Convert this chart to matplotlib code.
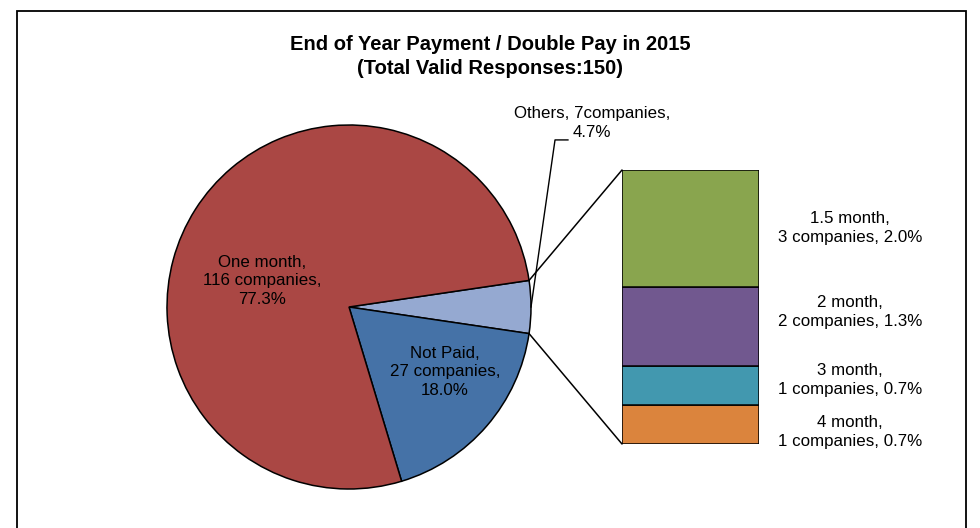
import matplotlib
matplotlib.use("Agg")
import matplotlib.pyplot as plt
import numpy as np
from matplotlib.patches import ConnectionPatch, Rectangle

plt.rcParams['font.family'] = ['Liberation Sans', 'DejaVu Sans']

# ---- data ----
title = "End of Year Payment / Double Pay in 2015\n(Total Valid Responses:150)"
pie_labels = ["Others", "Not Paid", "One month"]
pie_counts = [7, 27, 116]
pie_pcts = [4.7, 18.0, 77.3]
pie_colors = ["#95A9D1", "#4572A7", "#AA4744"]

bar_labels = ["4 month", "3 month", "2 month", "1.5 month"]
bar_counts = [1, 1, 2, 3]
bar_pcts = [0.7, 0.7, 1.3, 2.0]
bar_colors = ["#DB843D", "#4298AF", "#71588F", "#89A54E"]

W, H = 980, 528
fig = plt.figure(figsize=(W / 100, H / 100), dpi=100)

# border
fig.patches.append(Rectangle((17 / W, -0.05), (966 - 17) / W, 1.05 - 11 / H,
                             transform=fig.transFigure, fill=False,
                             edgecolor="black", linewidth=1.3))

fig.text(490 / W, 1 - 56.5 / H, title, ha="center", va="center",
         fontsize=14.5, fontweight="bold", linespacing=1.33)

# pie axes
cx, cy, r = 349, 307, 182
ax1 = fig.add_axes([(cx - r) / W, (H - cy - r) / H, 2 * r / W, 2 * r / H])
total = sum(pie_counts)
start = 0.5 * pie_counts[0] / total * 360
wedges, _ = ax1.pie(pie_counts, colors=pie_colors, startangle=start,
                    counterclock=False, radius=1,
                    wedgeprops=dict(edgecolor="black", linewidth=1.1))
ax1.set_xlim(-1, 1)
ax1.set_ylim(-1, 1)
ax1.set_aspect("equal")
ax1.axis("off")

fs = 12.2
ls = 1.3
ax1.text(-0.478, 0.143, f"{pie_labels[2]},\n{pie_counts[2]} companies,\n{pie_pcts[2]:.1f}%",
         ha="center", va="center", fontsize=fs, linespacing=ls)
ax1.text(0.527, -0.357, f"{pie_labels[1]},\n{pie_counts[1]} companies,\n{pie_pcts[1]:.1f}%",
         ha="center", va="center", fontsize=fs, linespacing=ls)
# others label with leader
ax1.plot([1.0, 1.132, 1.203], [0.0, 0.918, 0.918], color="black",
         linewidth=1.0, clip_on=False)
ax1.text(1.335, 1.011, f"{pie_labels[0]}, {pie_counts[0]}companies,\n{pie_pcts[0]:.1f}%",
         ha="center", va="center", fontsize=fs, linespacing=ls)

# bar axes
bx0, bx1, by0, by1 = 622, 759, 170, 444
ax2 = fig.add_axes([bx0 / W, (H - by1) / H, (bx1 - bx0) / W, (by1 - by0) / H])
bottom = 0
for lab, c, p, col in zip(bar_labels, bar_counts, bar_pcts, bar_colors):
    ax2.bar(0, c, width=1.0, bottom=bottom, color=col, edgecolor="black", linewidth=1.1)
    bottom += c
ax2.set_xlim(-0.5, 0.5)
ax2.set_ylim(0, sum(bar_counts))
ax2.axis("off")

label_y = {"1.5 month": 228, "2 month": 312, "3 month": 380, "4 month": 432}
for lab, c, p in zip(bar_labels, bar_counts, bar_pcts):
    yf = (by1 - label_y[lab]) / (by1 - by0)
    xf = (850 - bx0) / (bx1 - bx0)
    ax2.text(xf, yf, f"{lab},\n{c} companies, {p:.1f}%", transform=ax2.transAxes,
             ha="center", va="center", fontsize=fs, linespacing=ls, clip_on=False)

# connecting lines
theta = np.deg2rad(start)
for yb, sgn in [(sum(bar_counts), 1), (0, -1)]:
    con = ConnectionPatch(xyA=(np.cos(theta), sgn * np.sin(theta)), coordsA=ax1.transData,
                          xyB=(-0.5, yb), coordsB=ax2.transData,
                          color="black", linewidth=1.1)
    fig.add_artist(con)

fig.savefig("out.png", dpi=100)
